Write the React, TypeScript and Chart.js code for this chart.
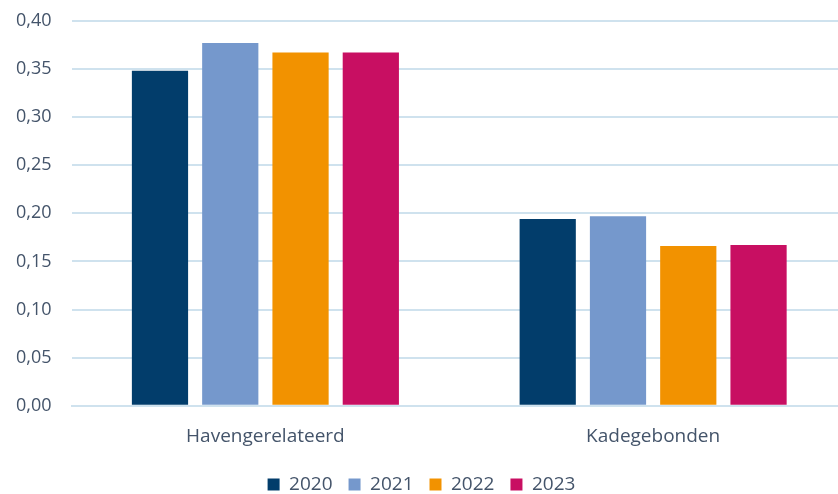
import React, { useEffect, useRef } from "react";
import { Chart, registerables } from "chart.js";

Chart.register(...registerables);

const categories = ["Havengerelateerd", "Kadegebonden"];
const years = ["2020", "2021", "2022", "2023"];
const values2020 = [0.348, 0.194];
const values2021 = [0.377, 0.197];
const values2022 = [0.367, 0.166];
const values2023 = [0.367, 0.167];
const colors = ["#023D6B", "#7598CC", "#F29200", "#C80F62"];

const FONT = "'Open Sans', sans-serif";
const TEXT = "#44546A";
const GRID = "#CFE2EE";

export default function App() {
  const ref = useRef<HTMLCanvasElement | null>(null);
  useEffect(() => {
    if (!ref.current) return;
    const series = [values2020, values2021, values2022, values2023];
    const chart = new Chart(ref.current, {
      type: "bar",
      data: {
        labels: categories,
        datasets: years.map((y, i) => ({
          label: y,
          data: series[i],
          backgroundColor: colors[i],
          borderWidth: 0,
          barPercentage: 0.8,
          categoryPercentage: 0.725,
        })),
      },
      options: {
        responsive: false,
        animation: false,
        layout: { padding: { left: 0, right: 0, top: 2, bottom: 0 } },
        plugins: {
          tooltip: { enabled: false },
          legend: {
            position: "bottom",
            labels: {
              boxWidth: 12,
              boxHeight: 12,
              padding: 16,
              color: TEXT,
              font: { family: FONT, size: 19 },
            },
          },
        },
        scales: {
          x: {
            grid: { display: false, drawTicks: false },
            border: { display: true, color: GRID, width: 2 },
            ticks: { color: TEXT, font: { family: FONT, size: 19 }, padding: 19 },
            afterFit: (scale: any) => {
              scale.height = 53.2;
            },
          },
          y: {
            min: 0,
            max: 0.4,
            grid: { color: GRID, lineWidth: 2, drawTicks: false },
            border: { display: false },
            ticks: {
              stepSize: 0.05,
              padding: 20,
              color: TEXT,
              font: { family: FONT, size: 18 },
              callback: (v: any) => Number(v).toFixed(2).replace(".", ","),
            },
          },
        },
      },
    });
    return () => chart.destroy();
  }, []);
  return (
    <div
      style={{
        position: "fixed",
        left: 0,
        top: 0,
        width: 838,
        height: 494,
        overflow: "hidden",
        background: "#fff",
      }}
    >
      <canvas
        ref={ref}
        width={851}
        height={514}
        style={{ position: "absolute", left: -4.5, top: -10.3 }}
      />
    </div>
  );
}
